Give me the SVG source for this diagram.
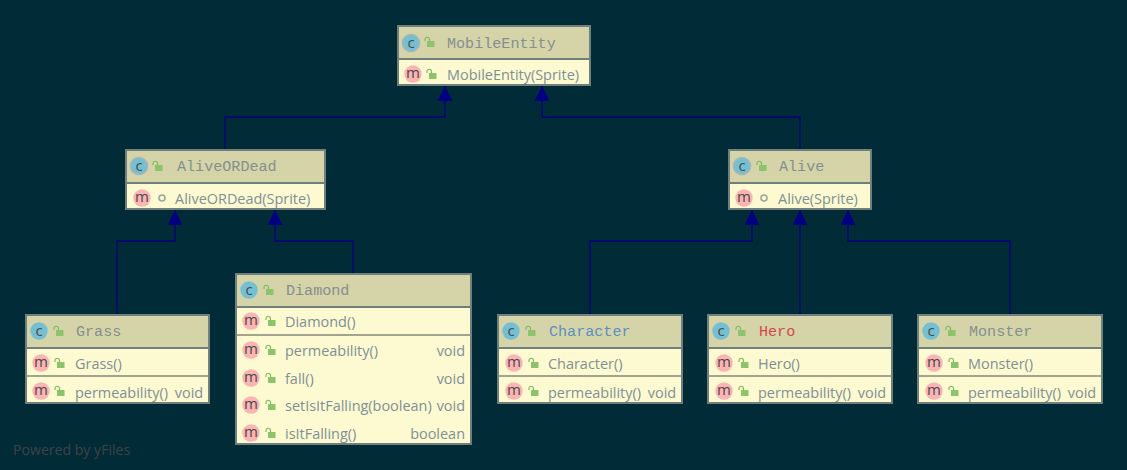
<svg xmlns="http://www.w3.org/2000/svg" xmlns:xlink="http://www.w3.org/1999/xlink" width="1127" height="470" viewBox="0 0 1127 470">
<style>
.box{fill:#fdf9d0;stroke:#6f7f7c;stroke-width:2}
.head{fill:#d5d3a8}
.div{stroke:#6f7f7c;stroke-width:2;fill:none}
.div1{stroke:#84877a;stroke-width:1.5;fill:none}
.title{font-family:"Liberation Mono",monospace;font-size:15.1px;fill:#84908f}
.t{font-family:"Open Sans","Noto Sans",sans-serif;font-size:14.45px;fill:#7d9197;word-spacing:3px}
.cc{fill:#75bfd2}
.mc{fill:#fbb4b4}
.ic{font-family:"Open Sans",sans-serif;font-size:15px;fill:#4a4a4a;text-anchor:middle}
.edge{fill:none;stroke:#000080;stroke-width:1.3}
.wm{font-family:"Open Sans",sans-serif;font-size:14.1px;fill:#3d4347}
</style>
<defs>
<marker id="arrow" markerUnits="userSpaceOnUse" markerWidth="16" markerHeight="16" refX="15" refY="7.5" orient="auto"><path d="M0 0L15 7.5L0 15Z" fill="#000080"/></marker>
<g id="lock"><rect x="3" y="3" width="7.5" height="6" fill="#8cc36b"/><path d="M1 3V1.5A2.2 2.2 0 0 1 5.5 1.5V3" fill="none" stroke="#7dbb62" stroke-width="1.2"/></g>
<g id="circ"><circle r="3" cx="3" cy="3" fill="none" stroke="#9aa6a2" stroke-width="1.6"/></g>
<g id="ring"><circle cx="0" cy="0" r="8.6" fill="none" stroke="#a9b6b8" stroke-width="1.5"/></g>
</defs>
<rect width="1127" height="470" fill="#012b37"/>
<g id="edges">
<path class="edge" marker-end="url(#arrow)" d="M225 150V117H445V86"/>
<path class="edge" marker-end="url(#arrow)" d="M800 150V117H542V86"/>
<path class="edge" marker-end="url(#arrow)" d="M117 315V241H175V210"/>
<path class="edge" marker-end="url(#arrow)" d="M353 274V241H275V210"/>
<path class="edge" marker-end="url(#arrow)" d="M590 315V241H752V210"/>
<path class="edge" marker-end="url(#arrow)" d="M800 315V210"/>
<path class="edge" marker-end="url(#arrow)" d="M1010 315V241H848V210"/>
</g>
<g id="MobileEntity">
<rect class="box" x="398" y="26" width="192" height="59"/><rect class="head" x="399" y="27" width="190" height="32"/><path class="div" d="M398 59H590"/>
<circle class="cc" cx="411" cy="43" r="8.7"/><use href="#ring" x="411" y="43"/><text class="ic" x="411" y="48">c</text><use href="#lock" x="424" y="38"/>
<text class="title" x="447" y="48">MobileEntity</text>
<circle class="mc" cx="413" cy="74" r="8.7"/><text class="ic" x="413" y="78">m</text><use href="#lock" x="426" y="70"/>
<text class="t" x="447" y="80">MobileEntity(Sprite)</text>
</g>
<g id="AliveORDead">
<rect class="box" x="126" y="150" width="199" height="59"/><rect class="head" x="127" y="151" width="197" height="32"/><path class="div" d="M126 183H325"/>
<circle class="cc" cx="139" cy="166" r="8.7"/><use href="#ring" x="139" y="166"/><text class="ic" x="139" y="171">c</text><use href="#lock" x="152" y="162"/>
<text class="title" x="177" y="171">AliveORDead</text>
<circle class="mc" cx="142" cy="198" r="8.7"/><text class="ic" x="142" y="202">m</text><use href="#circ" x="159" y="195"/>
<text class="t" x="175" y="204">AliveORDead(Sprite)</text>
</g>
<g id="Alive">
<rect class="box" x="729" y="150" width="142" height="59"/><rect class="head" x="730" y="151" width="140" height="32"/><path class="div" d="M729 183H871"/>
<circle class="cc" cx="742" cy="166" r="8.7"/><use href="#ring" x="742" y="166"/><text class="ic" x="742" y="171">c</text><use href="#lock" x="756" y="162"/>
<text class="title" x="779" y="171">Alive</text>
<circle class="mc" cx="744" cy="198" r="8.7"/><text class="ic" x="744" y="202">m</text><use href="#circ" x="761" y="195"/>
<text class="t" x="778" y="204">Alive(Sprite)</text>
</g>
<g id="Grass">
<rect class="box" x="26" y="315" width="183" height="88"/><rect class="head" x="27" y="316" width="181" height="32"/><path class="div" d="M26 348H209"/><path class="div1" d="M26 376H209"/>
<circle class="cc" cx="39" cy="331" r="8.7"/><text class="ic" x="39" y="336">c</text><use href="#lock" x="53" y="327"/>
<text class="title" x="76" y="336">Grass</text>
<circle class="mc" cx="41" cy="363" r="8.7"/><text class="ic" x="41" y="367">m</text><use href="#lock" x="54" y="359"/>
<text class="t" x="75" y="369">Grass()</text>
<circle class="mc" cx="41" cy="391" r="8.7"/><text class="ic" x="41" y="395">m</text><use href="#lock" x="54" y="387"/>
<text class="t" x="75" y="398">permeability() void</text>
</g>
<g id="Diamond">
<rect class="box" x="236" y="274" width="235" height="170"/><rect class="head" x="237" y="275" width="233" height="32"/><path class="div" d="M236 307H471"/><path class="div1" d="M236 335H471"/>
<circle class="cc" cx="249" cy="290" r="8.7"/><text class="ic" x="249" y="295">c</text><use href="#lock" x="263" y="286"/>
<text class="title" x="286" y="295">Diamond</text>
<circle class="mc" cx="251" cy="321" r="8.7"/><text class="ic" x="251" y="325">m</text><use href="#lock" x="265" y="317"/>
<text class="t" x="285" y="327">Diamond()</text>
<circle class="mc" cx="251" cy="350" r="8.7"/><text class="ic" x="251" y="354">m</text><use href="#lock" x="265" y="346"/>
<text class="t" x="285" y="356">permeability()</text><text class="t" x="465" y="356" text-anchor="end">void</text>
<circle class="mc" cx="251" cy="378" r="8.7"/><text class="ic" x="251" y="382">m</text><use href="#lock" x="265" y="374"/>
<text class="t" x="285" y="384">fall()</text><text class="t" x="465" y="384" text-anchor="end">void</text>
<circle class="mc" cx="251" cy="405" r="8.7"/><text class="ic" x="251" y="409">m</text><use href="#lock" x="265" y="401"/>
<text class="t" x="285" y="411">setIsItFalling(boolean)</text><text class="t" x="465" y="411" text-anchor="end">void</text>
<circle class="mc" cx="251" cy="433" r="8.7"/><text class="ic" x="251" y="437">m</text><use href="#lock" x="265" y="429"/>
<text class="t" x="285" y="439">isItFalling()</text><text class="t" x="465" y="439" text-anchor="end">boolean</text>
</g>
<g id="Character">
<rect class="box" x="498" y="315" width="184" height="88"/><rect class="head" x="499" y="316" width="182" height="32"/><path class="div" d="M498 348H682"/><path class="div1" d="M498 376H682"/>
<circle class="cc" cx="511" cy="331" r="8.7"/><text class="ic" x="511" y="336">c</text><use href="#lock" x="525" y="327"/>
<text class="title" x="549" y="336" style="fill:#5f8fc0">Character</text>
<circle class="mc" cx="514" cy="363" r="8.7"/><text class="ic" x="514" y="367">m</text><use href="#lock" x="528" y="359"/>
<text class="t" x="548" y="369">Character()</text>
<circle class="mc" cx="514" cy="391" r="8.7"/><text class="ic" x="514" y="395">m</text><use href="#lock" x="528" y="387"/>
<text class="t" x="548" y="398">permeability() void</text>
</g>
<g id="Hero">
<rect class="box" x="708" y="315" width="184" height="88"/><rect class="head" x="709" y="316" width="182" height="32"/><path class="div" d="M708 348H892"/><path class="div1" d="M708 376H892"/>
<circle class="cc" cx="721" cy="331" r="8.7"/><text class="ic" x="721" y="336">c</text><use href="#lock" x="735" y="327"/>
<text class="title" x="759" y="336" style="fill:#d24b4b">Hero</text>
<circle class="mc" cx="724" cy="363" r="8.7"/><text class="ic" x="724" y="367">m</text><use href="#lock" x="738" y="359"/>
<text class="t" x="758" y="369">Hero()</text>
<circle class="mc" cx="724" cy="391" r="8.7"/><text class="ic" x="724" y="395">m</text><use href="#lock" x="738" y="387"/>
<text class="t" x="758" y="398">permeability() void</text>
</g>
<g id="Monster">
<rect class="box" x="918" y="315" width="184" height="88"/><rect class="head" x="919" y="316" width="182" height="32"/><path class="div" d="M918 348H1102"/><path class="div1" d="M918 376H1102"/>
<circle class="cc" cx="931" cy="331" r="8.7"/><text class="ic" x="931" y="336">c</text><use href="#lock" x="945" y="327"/>
<text class="title" x="969" y="336">Monster</text>
<circle class="mc" cx="934" cy="363" r="8.7"/><text class="ic" x="934" y="367">m</text><use href="#lock" x="948" y="359"/>
<text class="t" x="968" y="369">Monster()</text>
<circle class="mc" cx="934" cy="391" r="8.7"/><text class="ic" x="934" y="395">m</text><use href="#lock" x="948" y="387"/>
<text class="t" x="968" y="398">permeability() void</text>
</g>
<text class="wm" x="13" y="455">Powered by yFiles</text>
</svg>
